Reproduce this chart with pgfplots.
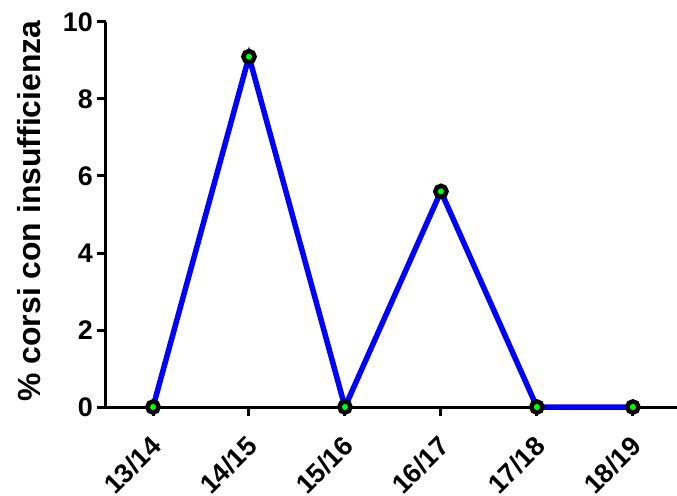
\documentclass[border=0pt]{standalone}
\usepackage{fontspec}
\setmainfont{Liberation Sans}
\usepackage{pgfplots}
\pgfplotsset{compat=1.18}
\begin{document}
\begin{tikzpicture}
\useasboundingbox (-106bp,-89bp) rectangle (571bp,407bp);
\begin{axis}[
  at={(0,0)}, anchor=south west,
  scale only axis,
  width=571bp, height=385bp,
  xmin=-0.49, xmax=5.46,
  ymin=0, ymax=10,
  axis x line*=bottom, axis y line*=left,
  axis line style={-, line width=3bp, black},
  xtick={0,1,2,3,4,5},
  xticklabels={13/14,14/15,15/16,16/17,17/18,18/19},
  ytick={0,2,4,6,8,10},
  tick align=outside,
  major tick length=9bp,
  tick style={line width=3bp, black},
  /pgf/number format/assume math mode=true,
  tick label style={font=\fontsize{27}{27}\selectfont\bfseries},
  x tick label style={anchor=north east, inner sep=0bp, xshift=-4bp, yshift=-18bp, rotate=45},
  y tick label style={inner sep=2bp, xshift=-2bp},
  ylabel={\% corsi con insufficienza},
  ylabel style={font=\fontsize{32}{32}\selectfont\bfseries, at={(axis description cs:-0.135,0.509)}, anchor=center},
  clip=false,
]
\addplot[blue, line width=5.5bp, mark=*, mark size=5.6bp,
  mark options={fill=green, draw=black, line width=4.5bp}]
  coordinates {(0,0) (1,9.1) (2,0) (3,5.6) (4,0) (5,0)};
\end{axis}
\end{tikzpicture}
\end{document}
